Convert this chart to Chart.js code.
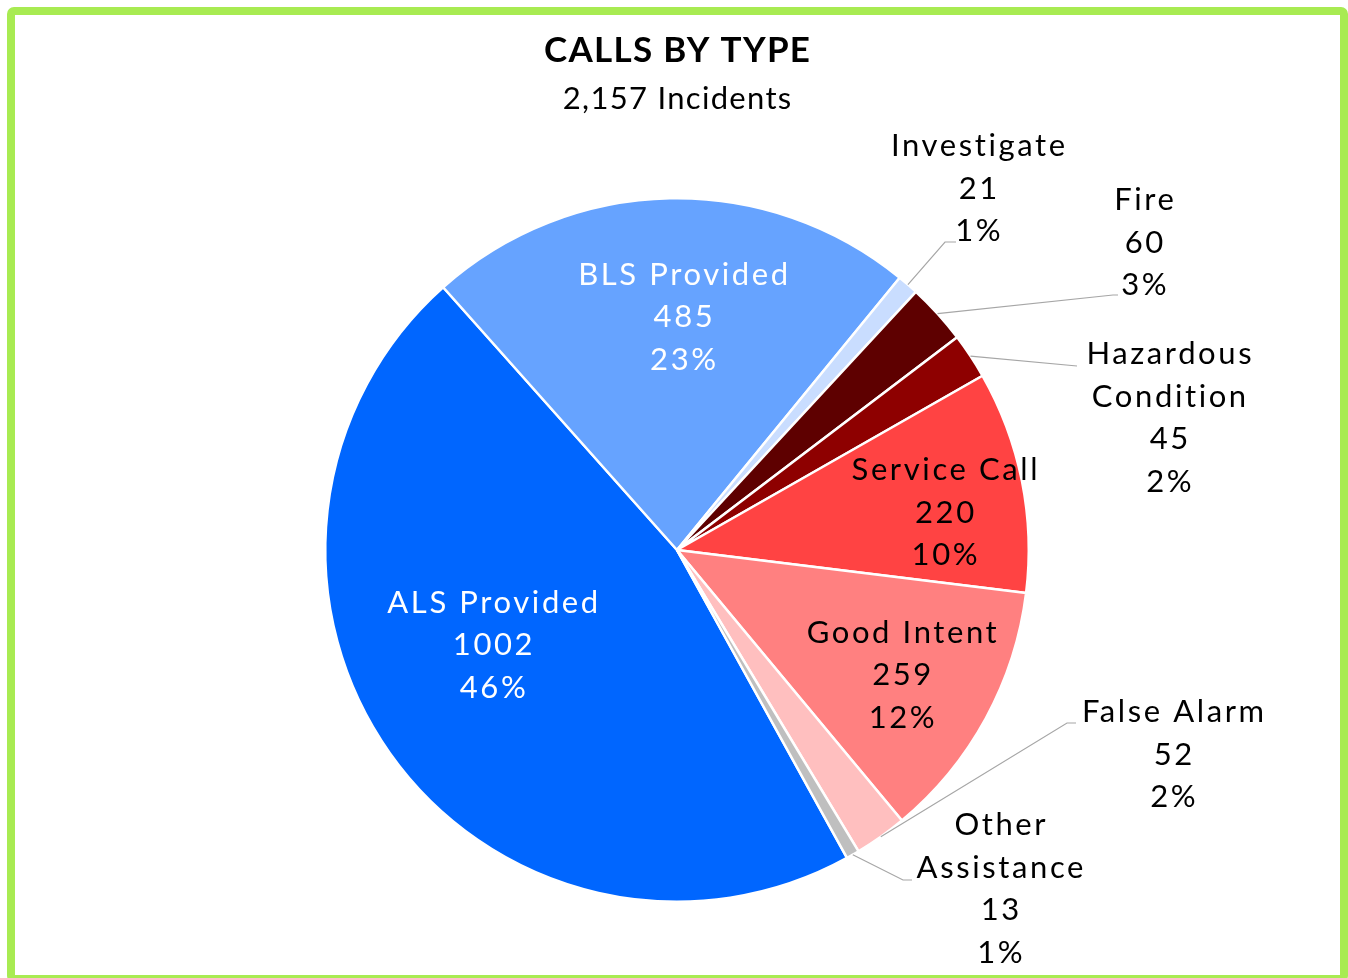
<!DOCTYPE html>
<html>
<head>
<meta charset="utf-8">
<script src="https://cdn.jsdelivr.net/npm/chart.js@4.4.1/dist/chart.umd.min.js"></script>
<style>
  html, body { margin: 0; padding: 0; background: #fff; overflow: hidden; }
  #wrap { position: relative; width: 1348px; height: 978px; }
  #frame {
    position: absolute; left: 7px; top: 7px; width: 1341px; height: 976px;
    box-sizing: border-box; border: 8px solid #A8EB52; border-radius: 7px;
    pointer-events: none;
  }
  canvas { position: absolute; left: 0; top: 0; }
</style>
</head>
<body>
<div id="wrap">
  <canvas id="callsChart" width="1348" height="978"></canvas>
  <div id="frame"></div>
</div>
<script>
// calls by type, clockwise starting from ALS
const categories = ["ALS Provided", "BLS Provided", "Investigate", "Fire", "Hazardous Condition",
  "Service Call", "Good Intent", "False Alarm", "Other Assistance"];
const callCounts = [1002, 485, 21, 60, 45, 220, 259, 52, 13];
const percentLabels = ["46%", "23%", "1%", "3%", "2%", "10%", "12%", "2%", "1%"];
const sliceColors = ["#0066FF", "#66A3FF", "#C9DDFF", "#5E0000", "#8E0000",
  "#FF4343", "#FF8080", "#FFBFBF", "#BFBFBF"];

const FONT = "Lato, 'Open Sans', sans-serif";

// label placement: inside labels sit on the slice (angle nudge deg, radius fraction),
// outside labels get a text anchor + leader line elbow
const labelLayout = [
  { inside: true, nudge: 7.9, frac: 0.59, color: "#fff", lines: ["ALS Provided"] },
  { inside: true, nudge: 2.7, frac: 0.662, color: "#fff", lines: ["BLS Provided"] },
  { inside: false, tx: 978, ty: 146, elbow: [945, 242], end: [956, 242], lines: ["Investigate"] },
  { inside: false, tx: 1144, ty: 200, elbow: [1113, 295], end: [1118, 295], lines: ["Fire"] },
  { inside: false, tx: 1169, ty: 354, elbow: [1077, 366], end: [1077, 366], lines: ["Hazardous", "Condition"] },
  { inside: true, nudge: 3.4, frac: 0.768, color: "#000", lines: ["Service Call"] },
  { inside: true, nudge: 0.45, frac: 0.731, color: "#000", lines: ["Good Intent"] },
  { inside: false, tx: 1173, ty: 712, elbow: [1067, 723], end: [1076, 723], lines: ["False Alarm"] },
  { inside: false, tx: 1000, ty: 825, elbow: [903, 880], end: [912, 880], lines: ["Other", "Assistance"] },
];

// centered text with letter spacing (trailing gap compensated)
function spacedText(ctx, t, x, y, sp) {
  ctx.letterSpacing = sp + "px";
  ctx.fillText(t, x + sp / 2, y);
  ctx.letterSpacing = "0px";
}

const pieLabels = {
  id: "pieLabels",
  afterDatasetsDraw(chart) {
    const ctx = chart.ctx;
    const meta = chart.getDatasetMeta(0);
    const lineH = 42.5;
    ctx.save();
    ctx.font = "31px " + FONT;
    ctx.textAlign = "center";
    ctx.textBaseline = "middle";
    meta.data.forEach((arc, i) => {
      const lay = labelLayout[i];
      const p = arc.getProps(["x", "y", "startAngle", "endAngle", "outerRadius"], true);
      const mid = (p.startAngle + p.endAngle) / 2;
      const lines = lay.lines.concat([String(callCounts[i]), percentLabels[i]]);
      let cx, top;
      if (lay.inside) {
        const a = mid + lay.nudge * Math.PI / 180;
        const r = p.outerRadius * lay.frac;
        cx = p.x + Math.cos(a) * r;
        const cy = p.y + Math.sin(a) * r;
        top = cy - (lines.length - 1) * lineH / 2;
        ctx.fillStyle = lay.color;
      } else {
        // leader line from slice edge
        const sx = p.x + Math.cos(mid) * p.outerRadius;
        const sy = p.y + Math.sin(mid) * p.outerRadius;
        ctx.strokeStyle = "#A6A6A6";
        ctx.lineWidth = 1.2;
        ctx.beginPath();
        ctx.moveTo(sx, sy);
        ctx.lineTo(lay.elbow[0], lay.elbow[1]);
        ctx.lineTo(lay.end[0], lay.end[1]);
        ctx.stroke();
        cx = lay.tx;
        top = lay.ty;
        ctx.fillStyle = "#000";
      }
      lines.forEach((t, k) => spacedText(ctx, t, cx, top + k * lineH, 2.6));
    });
    ctx.restore();
  }
};

const titleDraw = {
  id: "titleDraw",
  afterDraw(chart) {
    const ctx = chart.ctx;
    ctx.save();
    ctx.fillStyle = "#000";
    ctx.textAlign = "center";
    ctx.textBaseline = "middle";
    ctx.font = "bold 35px " + FONT;
    spacedText(ctx, "CALLS BY TYPE", 677, 51, 1.3);
    ctx.font = "31px " + FONT;
    spacedText(ctx, "2,157 Incidents", 677, 99, 1.3);
    ctx.restore();
  }
};

new Chart(document.getElementById("callsChart").getContext("2d"), {
  type: "pie",
  data: {
    labels: categories,
    datasets: [{
      data: callCounts,
      backgroundColor: sliceColors,
      borderColor: "#ffffff",
      borderWidth: 2.5,
    }]
  },
  options: {
    responsive: false,
    animation: false,
    rotation: 151.1,
    layout: { padding: { left: 324, right: 318, top: 197, bottom: 75 } },
    plugins: {
      legend: { display: false },
      tooltip: { enabled: false },
      title: { display: false },
    }
  },
  plugins: [pieLabels, titleDraw]
});
</script>
</body>
</html>
